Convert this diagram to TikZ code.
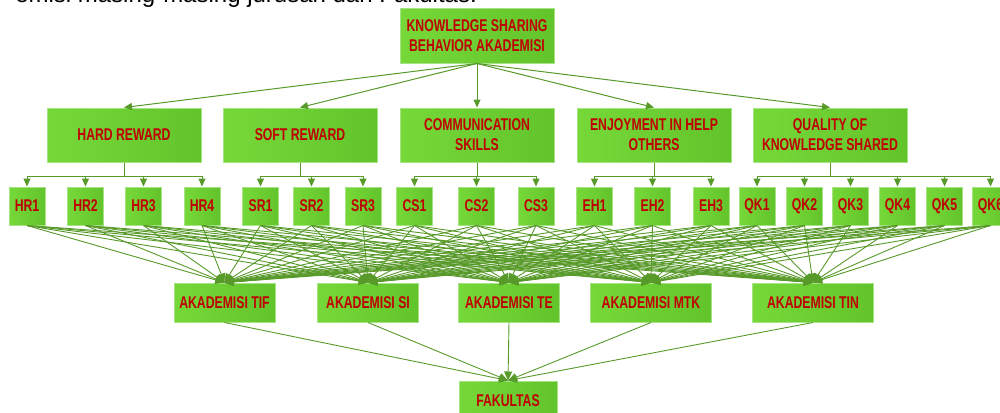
\documentclass[tikz,border=0pt]{standalone}
\usepackage{fontspec}
\setmainfont{Liberation Sans}
\newfontfamily\boxfont{Liberation Sans}[FakeStretch=0.72]
\usetikzlibrary{arrows.meta}
\definecolor{boxlight}{HTML}{76D838}
\definecolor{boxdark}{HTML}{62C42B}
\definecolor{boxedge}{HTML}{A6E385}
\definecolor{linkgreen}{HTML}{589A2A}
\definecolor{labelred}{HTML}{C00000}
\begin{document}
\begin{tikzpicture}[x=1pt,y=-1pt,
  box/.style={draw=boxedge, line width=1pt, left color=boxlight, right color=boxdark,
    text=labelred, font=\boxfont\bfseries\fontsize{17}{20}\selectfont,
    align=center, inner sep=0pt},
  topbox/.style={box, minimum width=154pt, minimum height=54pt},
  catbox/.style={box, minimum width=154pt, minimum height=54pt},
  indbox/.style={box, minimum width=36pt, minimum height=38pt},
  acbox/.style={box, minimum height=39pt},
  link/.style={draw=linkgreen, line width=1pt, -{Triangle[length=8pt,width=7pt]}},
  fan/.style={draw=linkgreen, line width=0.9pt, -{Triangle[length=9pt,width=8pt]}}]

\clip (0,0) rectangle (1000,412);
\fill[white] (0,0) rectangle (1000,412);

% running text of the page above the chart
\node[anchor=base east, inner sep=0pt, font=\fontsize{24}{28}\selectfont]
  (caption) at (477,2.5) {emisi masing-masing jurusan dan Fakultas.};

% root
\node[topbox] (ksb) at (477,36) {KNOWLEDGE SHARING\\BEHAVIOR AKADEMISI};

% dimensions
\node[catbox] (hr) at (124,135) {HARD REWARD};
\node[catbox] (sr) at (300,135) {SOFT REWARD};
\node[catbox] (cs) at (477,135) {COMMUNICATION\\SKILLS};
\node[catbox] (eh) at (654,135) {ENJOYMENT IN HELP\\OTHERS};
\node[catbox] (qk) at (830,135) {QUALITY OF\\KNOWLEDGE SHARED};

\foreach \c in {hr,sr,cs,eh,qk}
  \draw[link] (ksb.south) -- (\c.north);

% indicators
\foreach \n/\x in {HR1/27,HR2/85.5,HR3/143.5,HR4/202,
                   SR1/260.5,SR2/311.5,SR3/363,
                   CS1/414.5,CS2/476.5,CS3/536,
                   EH1/594.5,EH2/652.5,EH3/711,
                   QK1/757,QK2/804.5,QK3/850.5,QK4/897.5,QK5/944.5,QK6/990.5}
  \node[indbox] (\n) at (\x,206) {\n};

\foreach \c/\list in {hr/{HR1,HR2,HR3,HR4}, sr/{SR1,SR2,SR3}, cs/{CS1,CS2,CS3},
                      eh/{EH1,EH2,EH3}, qk/{QK1,QK2,QK3,QK4,QK5,QK6}}
  \foreach \i in \list
    \draw[link] (\c.south) -- ++(0,14) -| (\i.north);

% academic units
\node[acbox, minimum width=101pt] (tif) at (224.5,302.5) {AKADEMISI TIF};
\node[acbox, minimum width=101pt] (si)  at (368,302.5)   {AKADEMISI SI};
\node[acbox, minimum width=101pt] (te)  at (509,302.5)   {AKADEMISI TE};
\node[acbox, minimum width=121pt] (mtk) at (651,302.5)   {AKADEMISI MTK};
\node[acbox, minimum width=121pt] (tin) at (813,302.5)   {AKADEMISI TIN};

\foreach \i in {HR1,HR2,HR3,HR4,SR1,SR2,SR3,CS1,CS2,CS3,EH1,EH2,EH3,QK1,QK2,QK3,QK4,QK5,QK6}
  \foreach \a in {tif,si,te,mtk,tin}
    \draw[fan] (\i.south) -- (\a.north);

% faculty
\node[acbox, minimum width=98pt] (fak) at (508,400.5) {FAKULTAS};
\foreach \a in {tif,si,te,mtk,tin}
  \draw[fan] (\a.south) -- (fak.north);
\end{tikzpicture}
\end{document}
